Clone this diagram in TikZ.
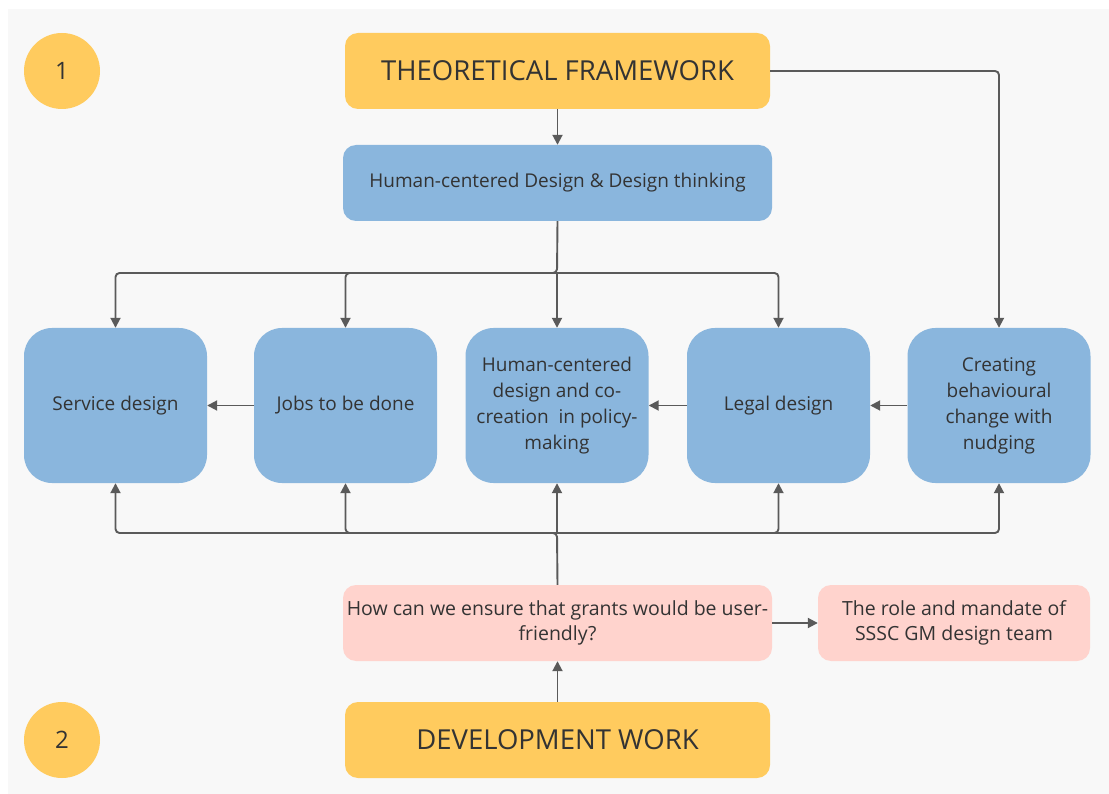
\documentclass[tikz,border=0pt]{standalone}
\usepackage{fontspec}
\setmainfont{Open Sans}
\usetikzlibrary{arrows.meta}

\definecolor{canvas}{HTML}{F8F8F8}
\definecolor{sun}{HTML}{FFCB5E}
\definecolor{sky}{HTML}{8AB6DD}
\definecolor{blush}{HTML}{FFD3CD}
\definecolor{ink}{HTML}{333333}
\definecolor{wire}{HTML}{5A5A5A}

\tikzset{
  base/.style={draw=none, text=ink, align=center, inner sep=2pt},
  header/.style={base, fill=sun, rounded corners=13pt, minimum width=425pt,
    minimum height=76pt, font=\fontsize{27.5}{32}\selectfont},
  number/.style={base, fill=sun, circle, minimum size=76pt,
    font=\fontsize{24}{28}\selectfont},
  theme/.style={base, fill=sky, rounded corners=13pt, minimum width=429pt,
    minimum height=76pt, font=\fontsize{19}{26}\selectfont},
  topic/.style={base, fill=sky, rounded corners=28pt, minimum width=183pt,
    minimum height=155pt, font=\fontsize{19}{26}\selectfont},
  question/.style={base, fill=blush, rounded corners=13pt, minimum height=76pt,
    font=\fontsize{19.5}{25}\selectfont},
  conn/.style={draw=wire, line width=1.9pt, rounded corners=4pt,
    -{Triangle[length=10pt, width=10pt]}},
}

\begin{document}
\begin{tikzpicture}[x=1pt, y=-1pt]
  % canvas
  \fill[white] (0,0) rectangle (1109,794);
  \fill[canvas] (8,9) rectangle (1109,794);
  \useasboundingbox (0,0) rectangle (1109,794);

  % section markers
  \node[number] (one) at (62,71) {1};
  \node[number] (two) at (62,740) {2};

  % headers
  \node[header] (tf) at (557.5,71) {THEORETICAL FRAMEWORK};
  \node[header] (dw) at (557.5,740) {DEVELOPMENT WORK};

  % theory
  \node[theme] (hcd) at (557.5,183) {Human-centered Design \& Design thinking};

  % topics
  \node[topic] (sd) at (115.5,405.5) {Service design};
  \node[topic] (jb) at (345.5,405.5) {Jobs to be done};
  \node[topic] (hp) at (557,405.5) {Human-centered\\design and co-\\creation\ \ in policy-\\making};
  \node[topic] (ld) at (778.5,405.5) {Legal design};
  \node[topic] (cb) at (999,405.5) {Creating\\behavioural\\change with\\nudging};

  % development questions
  \node[question, minimum width=429pt] (q1) at (557.5,623) {How can we ensure that grants would be user-\\friendly?};
  \node[question, minimum width=272pt] (q2) at (954,623) {The role and mandate of\\SSSC GM design team};

  % split points
  \coordinate (topsplit) at (557,273);
  \coordinate (botsplit) at (557,533);

  % framework to theory and nudging
  \draw[conn] (tf.south) -- (hcd.north);
  \draw[conn] (tf.east) -| (cb.north);

  % theory fans out to the topics
  \draw[conn] (hcd.south) -- (topsplit) -| (sd.north);
  \draw[conn] (topsplit) -| (jb.north);
  \draw[conn] (topsplit) -- (hp.north);
  \draw[conn] (topsplit) -| (ld.north);

  % topic chain
  \draw[conn] (jb.west) -- (sd.east);
  \draw[conn] (ld.west) -- (hp.east);
  \draw[conn] (cb.west) -- (ld.east);

  % development work feeds the topics
  \draw[conn] (dw.north) -- (q1.south);
  \draw[conn] (q1.east) -- (q2.west);
  \draw[conn] (q1.north) -- (botsplit) -| (sd.south);
  \draw[conn] (botsplit) -| (jb.south);
  \draw[conn] (botsplit) -- (hp.south);
  \draw[conn] (botsplit) -| (ld.south);
  \draw[conn] (botsplit) -| (cb.south);
\end{tikzpicture}
\end{document}
